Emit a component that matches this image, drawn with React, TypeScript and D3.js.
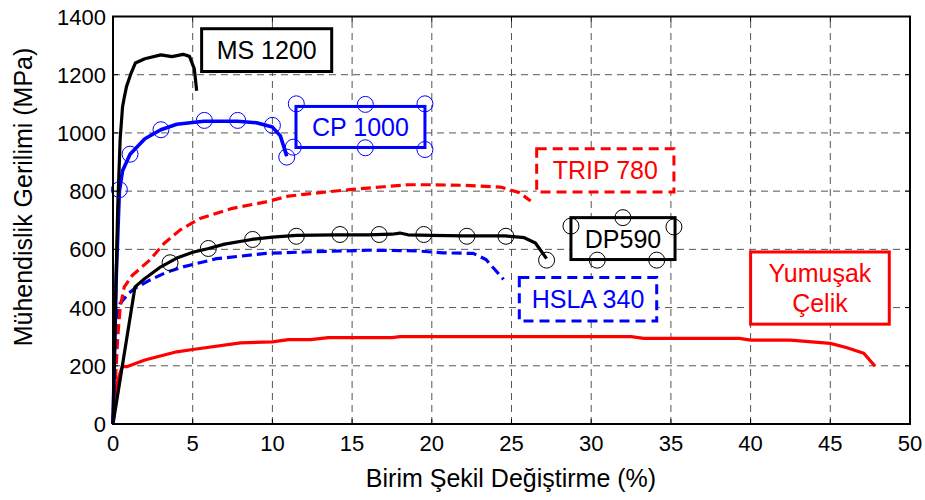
import { useEffect, useRef } from "react";
import * as d3 from "d3";

// strain (%) , stress (MPa)
const ms1200 = [
  [0, 0], [0.15, 400], [0.3, 750], [0.45, 980], [0.6, 1090], [0.7, 1120], [0.85, 1160],
  [1.1, 1200], [1.4, 1240], [2, 1255], [3, 1268], [3.7, 1262], [4.4, 1270], [4.8, 1263],
  [5.1, 1220], [5.25, 1145],
];
const cp1000 = [
  [0, 0], [0.2, 500], [0.4, 800], [0.6, 870], [1.07, 927], [2, 980], [3, 1011], [4, 1030],
  [5.7, 1040], [7.8, 1040], [9, 1035], [10, 1020], [10.5, 990], [10.9, 920],
];
const cp1000Marks = [
  [0.4, 805], [1.07, 927], [3.01, 1011], [5.73, 1043], [7.82, 1043], [10.0, 1026], [10.9, 917],
  [11.5, 1100], [15.83, 1098], [19.57, 1100], [11.31, 951], [15.83, 949], [19.57, 943],
];
const trip780 = [
  [0, 0], [0.15, 150], [0.3, 300], [0.45, 400], [0.7, 470], [1.2, 510], [2.3, 563], [3.2, 620],
  [4.2, 666], [5.5, 707], [7.5, 741], [9.6, 763], [11, 783], [13, 795], [15, 806], [17, 815],
  [18.5, 822], [20, 822], [22, 820], [24.3, 814], [25.5, 795], [26.2, 766],
];
const dp590 = [
  [0, 0], [1.38, 471], [2, 500], [3, 540], [4, 570], [5, 590], [6, 603], [7, 618], [8.7, 634],
  [10, 642], [11.5, 648], [14, 650], [16, 650], [17.5, 652], [18, 656], [18.5, 650], [20, 648],
  [22, 646], [24.6, 646], [25.8, 640], [26.5, 622], [27.2, 568],
];
const dp590Marks = [
  [3.58, 554], [5.98, 603], [8.76, 634], [11.5, 645], [14.24, 651], [16.7, 651], [19.5, 651],
  [22.2, 645], [24.65, 645], [27.2, 563],
  [28.73, 680], [31.99, 709], [35.19, 677], [30.38, 563], [34.11, 563],
];
const hsla340 = [
  [0, 0], [0.15, 250], [0.3, 380], [0.45, 414], [1, 450], [1.4, 467], [2.3, 494], [3.3, 520],
  [4.4, 540], [6.5, 568], [9.6, 586], [12, 591], [16, 597], [19, 595], [20.7, 588], [22.6, 586],
  [23.4, 565], [24.5, 497],
];
const mildSteel = [
  [0, 0], [0.3, 150], [0.5, 185], [0.6, 198], [0.86, 197], [2, 220], [4, 248], [5, 256],
  [8, 279], [10, 282], [11, 290], [12.4, 290], [13.5, 297], [17.5, 297], [18, 300], [30, 300],
  [32.5, 300], [33.3, 294], [39.3, 294], [40, 288], [42.5, 288], [45, 277], [46, 263],
  [47.1, 243], [47.8, 199],
];

const xTicks = [0, 5, 10, 15, 20, 25, 30, 35, 40, 45, 50];
const yTicks = [0, 200, 400, 600, 800, 1000, 1200, 1400];

// label boxes: [x0, x1, y0, y1] in data units, text lines
const labels = [
  { box: [5.56, 13.72, 1358, 1211], text: ["MS 1200"], color: "#000", dash: null },
  { box: [11.48, 19.57, 1091, 950], text: ["CP 1000"], color: "#0000ff", dash: null },
  { box: [26.58, 35.19, 946, 797], text: ["TRIP 780"], color: "#ff0000", dash: "10,6" },
  { box: [28.73, 35.26, 709, 565], text: ["DP590"], color: "#000", dash: null },
  { box: [25.49, 34.11, 503, 354], text: ["HSLA 340"], color: "#0000ff", dash: "10,6" },
  { box: [40.0, 48.7, 591, 343], text: ["Yumuşak", "Çelik"], color: "#ff0000", dash: null },
];

export default function App() {
  const ref = useRef<SVGSVGElement>(null);
  useEffect(() => {
    const svg = d3.select(ref.current);
    svg.selectAll("*").remove();
    const font = "'Liberation Sans', Arial, sans-serif";
    const x = d3.scaleLinear().domain([0, 50]).range([113, 910]);
    const y = d3.scaleLinear().domain([0, 1400]).range([424, 16.5]);

    const grid = svg.append("g");
    xTicks.slice(1, -1).forEach((t) => {
      grid.append("line").attr("x1", x(t)).attr("x2", x(t)).attr("y1", y(0)).attr("y2", y(1400))
        .attr("stroke", "#555").attr("stroke-dasharray", "7,5");
    });
    yTicks.slice(1, -1).forEach((t) => {
      grid.append("line").attr("x1", x(0)).attr("x2", x(50)).attr("y1", y(t)).attr("y2", y(t))
        .attr("stroke", "#555").attr("stroke-dasharray", "7,5");
    });

    const line = d3.line<number[]>().x((d) => x(d[0])).y((d) => y(d[1]));
    const addLine = (data: number[][], color: string, dash: string | null, w = 3) => {
      svg.append("path").datum(data).attr("fill", "none").attr("stroke", color)
        .attr("stroke-width", w).attr("stroke-linejoin", "round")
        .attr("stroke-dasharray", dash)
        .attr("d", line);
    };
    addLine(mildSteel, "#ff0000", null, 3.2);
    addLine(hsla340, "#0000ff", "10,5", 3.2);
    addLine(trip780, "#ff0000", "10,5", 3.2);
    addLine(dp590, "#000", null, 3.2);
    addLine(cp1000, "#0000ff", null, 3.6);
    addLine(ms1200, "#000", null, 3.2);

    const addMarks = (data: number[][], color: string) => {
      svg.append("g").selectAll("circle").data(data).join("circle")
        .attr("cx", (d) => x(d[0])).attr("cy", (d) => y(d[1])).attr("r", 8)
        .attr("fill", "none").attr("stroke", color).attr("stroke-width", 1);
    };

    labels.forEach((l) => {
      const [x0, x1, y0, y1] = l.box;
      svg.append("rect").attr("x", x(x0)).attr("y", y(y0))
        .attr("width", x(x1) - x(x0)).attr("height", y(y1) - y(y0))
        .attr("fill", "#fff").attr("stroke", l.color).attr("stroke-width", 3)
        .attr("stroke-dasharray", l.dash);
      const cx = (x(x0) + x(x1)) / 2;
      const cy = (y(y0) + y(y1)) / 2;
      const n = l.text.length;
      l.text.forEach((t, i) => {
        svg.append("text").attr("x", cx).attr("y", cy + (i - (n - 1) / 2) * 30 + 9)
          .attr("text-anchor", "middle").attr("font-family", font).attr("font-size", 25)
          .attr("fill", l.color).text(t);
      });
    });
    addMarks(cp1000Marks, "#0000ff");
    addMarks(dp590Marks, "#000");

    // frame and ticks
    svg.append("rect").attr("x", x(0)).attr("y", y(1400)).attr("width", x(50) - x(0))
      .attr("height", y(0) - y(1400)).attr("fill", "none").attr("stroke", "#000").attr("stroke-width", 2);
    xTicks.forEach((t) => {
      svg.append("line").attr("x1", x(t)).attr("x2", x(t)).attr("y1", y(0)).attr("y2", y(0) - 5).attr("stroke", "#000");
      svg.append("line").attr("x1", x(t)).attr("x2", x(t)).attr("y1", y(1400)).attr("y2", y(1400) + 5).attr("stroke", "#000");
      svg.append("text").attr("x", x(t)).attr("y", 451).attr("text-anchor", "middle")
        .attr("font-family", font).attr("font-size", 22).text(t);
    });
    yTicks.forEach((t) => {
      svg.append("line").attr("x1", x(0)).attr("x2", x(0) + 5).attr("y1", y(t)).attr("y2", y(t)).attr("stroke", "#000");
      svg.append("line").attr("x1", x(50)).attr("x2", x(50) - 5).attr("y1", y(t)).attr("y2", y(t)).attr("stroke", "#000");
      svg.append("text").attr("x", 106).attr("y", y(t) + 8).attr("text-anchor", "end")
        .attr("font-family", font).attr("font-size", 22).text(t);
    });

    svg.append("text").attr("x", 511).attr("y", 487).attr("text-anchor", "middle")
      .attr("font-family", font).attr("font-size", 25).text("Birim Şekil Değiştirme (%)");
    svg.append("text").attr("transform", "translate(32,197) rotate(-90)").attr("text-anchor", "middle")
      .attr("font-family", font).attr("font-size", 25).text("Mühendislik Gerilimi (MPa)");
  }, []);

  return (
    <svg ref={ref} width={925} height={500}
      style={{ position: "absolute", left: 0, top: 0, background: "#fff" }} />
  );
}
